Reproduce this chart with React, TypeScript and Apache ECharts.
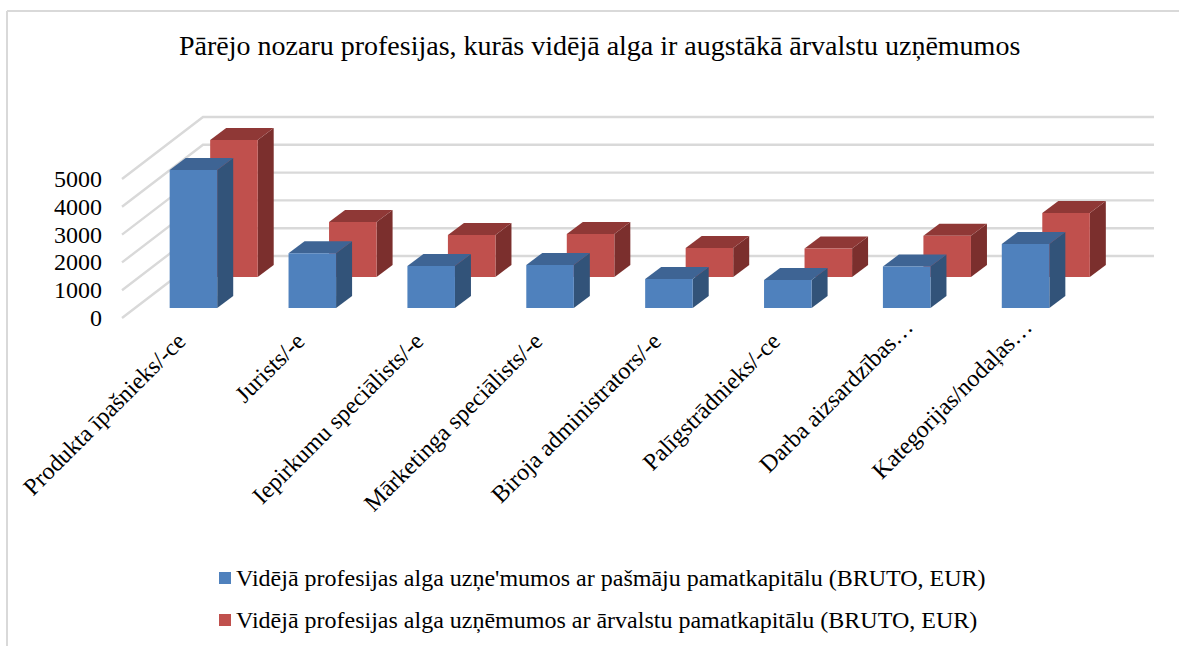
import React, { useEffect, useRef } from "react";
import * as echarts from "echarts";

const titleText = "Pārējo nozaru profesijas, kurās vidējā alga ir augstākā ārvalstu uzņēmumos";
const categories = [
  "Produkta īpašnieks/-ce",
  "Jurists/-e",
  "Iepirkumu speciālists/-e",
  "Mārketinga speciālists/-e",
  "Biroja administrators/-e",
  "Palīgstrādnieks/-ce",
  "Darba aizsardzības…",
  "Kategorijas/nodaļas…",
];
const seriesBlueName = "Vidējā profesijas alga uzņe'mumos ar pašmāju pamatkapitālu (BRUTO, EUR)";
const seriesRedName = "Vidējā profesijas alga uzņēmumos ar ārvalstu pamatkapitālu (BRUTO, EUR)";
const blueValues = [4960, 1970, 1510, 1550, 1045, 1010, 1495, 2300];
const redValues = [4930, 1980, 1510, 1550, 1045, 1025, 1485, 2300];
const yTicks = [0, 1000, 2000, 3000, 4000, 5000];

const FONT = "'Liberation Serif', 'Times New Roman', serif";

function barRenderer(floorDx: number, floorDy: number, front: string, top: string, side: string) {
  return (_params: any, api: any) => {
    const band = api.size([1, 0])[0];
    const w = band * 0.4;
    const c = api.coord([api.value(0), api.value(1)]);
    const b = api.coord([api.value(0), 0]);
    const x0 = c[0] - w / 2 + floorDx;
    const x1 = x0 + w;
    const yt = c[1] + floorDy;
    const yb = b[1] + floorDy;
    const dx = 16;
    const dy = -12;
    return {
      type: "group",
      children: [
        { type: "polygon", shape: { points: [[x1, yt], [x1 + dx, yt + dy], [x1 + dx, yb + dy], [x1, yb]] }, style: { fill: side } },
        { type: "polygon", shape: { points: [[x0, yt], [x0 + dx, yt + dy], [x1 + dx, yt + dy], [x1, yt]] }, style: { fill: top } },
        { type: "rect", shape: { x: x0, y: yt, width: w, height: yb - yt }, style: { fill: front } },
      ],
    };
  };
}

function wallRenderer(params: any, api: any) {
  const cs = params.coordSys;
  const y = api.coord([0, api.value(1)])[1];
  const dx = 81;
  const dy = -62;
  return {
    type: "polyline",
    shape: { points: [[cs.x, y], [cs.x + dx, y + dy], [cs.x + cs.width + dx, y + dy]] },
    style: { stroke: "#D9D9D9", lineWidth: 2.4, fill: "none" },
  };
}

export default function App() {
  const ref = useRef<HTMLDivElement>(null);
  useEffect(() => {
    const chart = echarts.init(ref.current!, null, { renderer: "svg" });
    chart.setOption({
      animation: false,
      backgroundColor: "#FFFFFF",
      title: {
        text: titleText,
        left: 179,
        top: 31,
        padding: 0,
        textStyle: { fontFamily: FONT, fontSize: 28, fontWeight: "normal", color: "#000000" },
      },
      legend: {
        orient: "vertical",
        left: 214,
        top: 561,
        icon: "rect",
        itemWidth: 12,
        itemHeight: 12,
        itemGap: 18,
        data: [seriesBlueName, seriesRedName],
        textStyle: { fontFamily: FONT, fontSize: 24, color: "#000000" },
      },
      grid: { left: 122, top: 179, width: 951, height: 139, containLabel: false },
      xAxis: {
        type: "category",
        data: categories,
        axisLine: { show: false },
        axisTick: { show: false },
        axisLabel: {
          interval: 0,
          rotate: 45,
          margin: 19,
          lineHeight: 30,
          fontFamily: FONT,
          fontSize: 24,
          color: "#000000",
          formatter: (v: string) => (v.endsWith("…") ? `{tail|${v}}` : v),
          rich: {
            tail: {
              fontFamily: FONT,
              fontSize: 24,
              color: "#000000",
              lineHeight: 30,
              padding: [0, -20, 0, 0],
            },
          },
        },
      },
      yAxis: {
        type: "value",
        min: 0,
        max: 5000,
        interval: 1000,
        axisLine: { show: false },
        axisTick: { show: false },
        splitLine: { show: false },
        axisLabel: {
          margin: 20,
          fontFamily: FONT,
          fontSize: 24,
          color: "#000000",
          verticalAlign: "middle",
          formatter: (v: number) => String(v),
        },
      },
      graphic: [
        { type: "line", shape: { x1: 7, y1: 11, x2: 1179, y2: 11 }, style: { stroke: "#D9D9D9", lineWidth: 2 } },
        { type: "line", shape: { x1: 7, y1: 11, x2: 7, y2: 646 }, style: { stroke: "#D9D9D9", lineWidth: 2 } },
      ],
      series: [
        {
          type: "custom",
          silent: true,
          z: 1,
          renderItem: wallRenderer,
          data: yTicks.map((v) => [0, v]),
          encode: { x: 0, y: 1 },
        },
        {
          name: seriesRedName,
          type: "custom",
          z: 2,
          itemStyle: { color: "#C0504D" },
          renderItem: barRenderer(52.5, -41, "#C0504D", "#8F3836", "#7B2F2D"),
          data: redValues.map((v, i) => [i, v]),
          encode: { x: 0, y: 1 },
        },
        {
          name: seriesBlueName,
          type: "custom",
          z: 3,
          itemStyle: { color: "#4F81BD" },
          renderItem: barRenderer(12, -10, "#4F81BD", "#3E6494", "#325379"),
          data: blueValues.map((v, i) => [i, v]),
          encode: { x: 0, y: 1 },
        },
      ],
    });
    return () => chart.dispose();
  }, []);
  return <div ref={ref} style={{ position: "fixed", left: 0, top: 0, width: 1179, height: 646 }} />;
}
